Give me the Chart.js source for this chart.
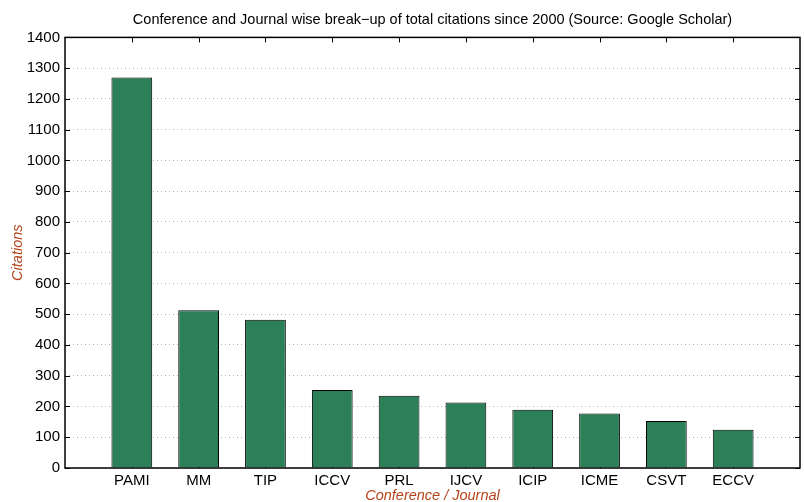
<!DOCTYPE html>
<html>
<head>
<meta charset="utf-8">
<script src="https://cdn.jsdelivr.net/npm/chart.js@4"></script>
<style>
  html, body { margin: 0; padding: 0; background: #fff; }
  #wrap { width: 804px; height: 502px; }
</style>
</head>
<body>
<div id="wrap"><canvas id="cite-chart" width="804" height="502"></canvas></div>
<script>
var venues = ["PAMI", "MM", "TIP", "ICCV", "PRL", "IJCV", "ICIP", "ICME", "CSVT", "ECCV"];
var citations = [1270, 513, 482, 254, 235, 213, 189, 177, 153, 124];
var yTicks = [0, 100, 200, 300, 400, 500, 600, 700, 800, 900, 1000, 1100, 1200, 1300, 1400];

// blank slot on both ends so bars sit at 1..10 of 0..11 like the matlab plot
var labels = [""].concat(venues).concat([""]);
var values = [null].concat(citations).concat([null]);

var fontFam = "'Liberation Sans', Arial, Helvetica, sans-serif";

var frame = {
  id: "frame",
  beforeDatasetsDraw: function (chart) {
    var c = chart.ctx, a = chart.chartArea;
    var xs = chart.scales.x, ys = chart.scales.y;
    c.save();
    c.strokeStyle = "#000";
    c.lineWidth = 1;
    c.beginPath();
    yTicks.forEach(function (t) {
      var y = Math.round(ys.getPixelForValue(t)) + 0.5;
      c.moveTo(a.left, y); c.lineTo(a.left + 5, y);
      c.moveTo(a.right, y); c.lineTo(a.right - 5, y);
    });
    for (var i = 1; i <= venues.length; i++) {
      var x = Math.round(xs.getPixelForValue(i)) + 0.5;
      c.moveTo(x, a.top); c.lineTo(x, a.top + 5);
      c.moveTo(x, a.bottom); c.lineTo(x, a.bottom - 5);
    }
    c.stroke();
    c.restore();
  },
  afterDatasetsDraw: function (chart) {
    var c = chart.ctx, a = chart.chartArea;
    c.save();
    c.strokeStyle = "#000";
    c.lineWidth = 1.5;
    c.strokeRect(a.left, a.top, a.right - a.left, a.bottom - a.top);
    c.restore();
  }
};

new Chart(document.getElementById("cite-chart"), {
  type: "bar",
  data: {
    labels: labels,
    datasets: [{
      data: values,
      backgroundColor: "#2b8058",
      borderColor: "#000",
      borderWidth: 1,
      barPercentage: 0.61,
      categoryPercentage: 1
    }]
  },
  options: {
    responsive: false,
    animation: false,
    layout: { padding: { right: 1 } },
    plugins: {
      legend: { display: false },
      tooltip: { enabled: false },
      title: {
        display: true,
        fullSize: false,
        text: "Conference and Journal wise break\u2212up of total citations since 2000 (Source: Google Scholar)",
        color: "#000",
        font: { family: fontFam, size: 14.5, weight: "normal" },
        padding: { top: 11, bottom: 9 }
      }
    },
    scales: {
      x: {
        offset: false,
        grid: { display: false, drawTicks: false },
        border: { display: false },
        ticks: { color: "#000", font: { family: fontFam, size: 15 }, padding: 4, maxRotation: 0, autoSkip: false },
        title: {
          display: true,
          text: "Conference / Journal",
          color: "#b5441b",
          font: { family: fontFam, size: 14.5, style: "italic" },
          padding: { top: 0, bottom: -3 }
        },
        afterFit: function (s) { s.height = 34; }
      },
      y: {
        min: 0,
        max: 1400,
        afterBuildTicks: function (s) { s.ticks = yTicks.map(function (v) { return { value: v }; }); },
        grid: { color: "#b4b4b4", drawTicks: false },
        border: { display: false, dash: [1, 3] },
        ticks: {
          color: "#000",
          font: { family: fontFam, size: 15 },
          padding: 5,
          callback: function (v) { return String(v); }
        },
        title: {
          display: true,
          text: "Citations",
          color: "#b5441b",
          font: { family: fontFam, size: 14.5, style: "italic" },
          padding: { top: 9, bottom: 0 }
        },
        afterFit: function (s) { s.width = 65; }
      }
    }
  },
  plugins: [frame]
});
</script>
</body>
</html>
